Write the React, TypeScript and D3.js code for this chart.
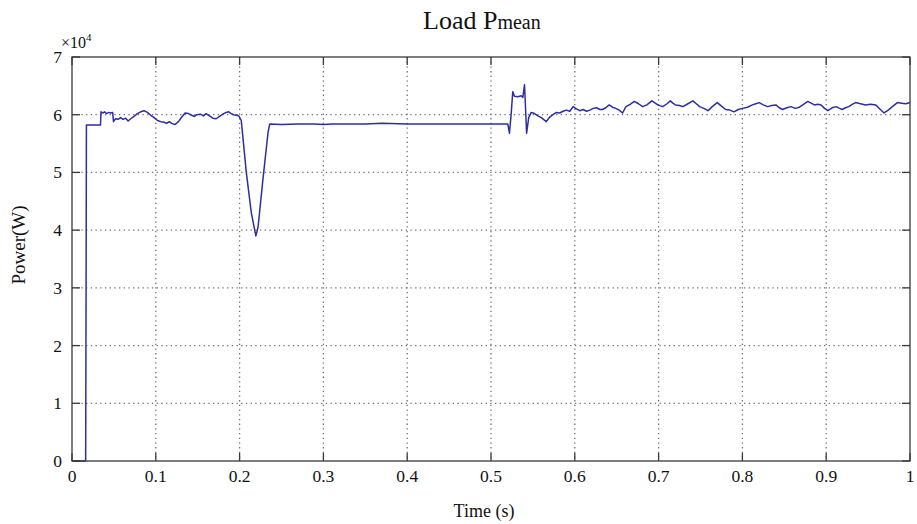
import React from "react";
import * as d3 from "d3";

// time (s) and load power (x10^4 W)
const time = [
  0, 0.0163, 0.0168, 0.0172, 0.034, 0.0346, 0.037, 0.039, 0.041, 0.044, 0.046, 0.0485, 0.0495,
  0.052, 0.055, 0.058, 0.061, 0.064, 0.067, 0.07, 0.074, 0.078, 0.082, 0.086, 0.09, 0.094, 0.098,
  0.102, 0.106, 0.11, 0.113, 0.116, 0.119, 0.123, 0.127, 0.131, 0.135, 0.139, 0.143, 0.146, 0.149,
  0.153, 0.157, 0.16, 0.164, 0.168, 0.172, 0.176, 0.18, 0.184, 0.187, 0.19, 0.193, 0.196, 0.199,
  0.202, 0.208, 0.214, 0.2194, 0.222, 0.228, 0.234, 0.236, 0.25, 0.27, 0.29, 0.3, 0.31, 0.35,
  0.37, 0.4, 0.45, 0.5, 0.52, 0.522, 0.524, 0.526, 0.528, 0.532, 0.536, 0.538, 0.54, 0.5425,
  0.545, 0.548, 0.552, 0.556, 0.56, 0.566, 0.57, 0.574, 0.578, 0.582, 0.586, 0.59, 0.594, 0.598,
  0.602, 0.606, 0.61, 0.614, 0.618, 0.622, 0.626, 0.63, 0.633, 0.637, 0.641, 0.645, 0.649, 0.653,
  0.657, 0.661, 0.666, 0.671, 0.676, 0.681, 0.686, 0.692, 0.696, 0.699, 0.705, 0.71, 0.714, 0.717,
  0.72, 0.725, 0.729, 0.735, 0.741, 0.745, 0.749, 0.754, 0.759, 0.764, 0.77, 0.775, 0.78, 0.785,
  0.79, 0.795, 0.8, 0.806, 0.812, 0.816, 0.82, 0.825, 0.83, 0.835, 0.84, 0.844, 0.848, 0.853,
  0.858, 0.863, 0.868, 0.873, 0.878, 0.882, 0.886, 0.89, 0.894, 0.898, 0.902, 0.907, 0.912, 0.916,
  0.919, 0.923, 0.927, 0.931, 0.935, 0.941, 0.947, 0.953, 0.959, 0.964, 0.969, 0.974, 0.979, 0.985,
  0.99, 0.995, 1.0,
];

const power = [
  0, 0, 2.9, 5.82, 5.82, 6.05, 6.03, 6.05, 6.02, 6.04, 6.03, 6.04, 5.88,
  5.93, 5.92, 5.95, 5.92, 5.94, 5.89, 5.93, 5.97, 6.02, 6.05, 6.07, 6.04, 5.99, 5.95,
  5.9, 5.88, 5.87, 5.85, 5.88, 5.85, 5.83, 5.88, 5.96, 6.03, 6.02, 5.99, 5.97, 6.0,
  6.01, 5.98, 6.02, 5.98, 5.94, 5.93, 5.97, 6.01, 6.04, 6.05, 6.02, 6.0, 5.99, 5.98,
  5.9, 5.0, 4.3, 3.9, 4.05, 4.9, 5.7, 5.84, 5.83, 5.84, 5.84, 5.83, 5.84, 5.84,
  5.85, 5.84, 5.84, 5.84, 5.84, 5.68, 6.0, 6.4, 6.32, 6.31, 6.33, 6.3, 6.52, 5.68,
  5.95, 6.04, 6.02, 5.98, 5.95, 5.88, 5.96, 6.0, 6.04, 6.03, 6.06, 6.08, 6.06, 6.14,
  6.1, 6.07, 6.09, 6.06, 6.08, 6.11, 6.12, 6.09, 6.09, 6.12, 6.17, 6.13, 6.11, 6.08,
  6.03, 6.14, 6.18, 6.23, 6.19, 6.14, 6.17, 6.24, 6.2, 6.17, 6.14, 6.19, 6.24, 6.2,
  6.17, 6.16, 6.14, 6.19, 6.24, 6.19, 6.14, 6.11, 6.07, 6.14, 6.21, 6.15, 6.09, 6.08,
  6.05, 6.09, 6.11, 6.13, 6.17, 6.19, 6.21, 6.17, 6.14, 6.16, 6.17, 6.12, 6.09, 6.12,
  6.14, 6.11, 6.13, 6.18, 6.23, 6.2, 6.17, 6.18, 6.17, 6.11, 6.07, 6.12, 6.14, 6.11,
  6.09, 6.12, 6.14, 6.18, 6.21, 6.19, 6.17, 6.18, 6.17, 6.1, 6.03, 6.08, 6.14, 6.21,
  6.2, 6.19, 6.21,
];

const xTicks = [0, 0.1, 0.2, 0.3, 0.4, 0.5, 0.6, 0.7, 0.8, 0.9, 1];
const xTickLabels = ["0", "0.1", "0.2", "0.3", "0.4", "0.5", "0.6", "0.7", "0.8", "0.9", "1"];
const yTicks = [0, 1, 2, 3, 4, 5, 6, 7];

const width = 917;
const height = 524;
const margin = { top: 57, right: 7, bottom: 63, left: 72 };
const font = "'Liberation Serif', 'Times New Roman', serif";

const App = () => {
  const x = d3.scaleLinear().domain([0, 1]).range([margin.left, width - margin.right]);
  const y = d3.scaleLinear().domain([0, 7]).range([height - margin.bottom, margin.top]);

  const line = d3
    .line<number>()
    .x((_, i) => x(time[i]))
    .y((d) => y(d));

  const x0 = x(0);
  const x1 = x(1);
  const y0 = y(0);
  const y1 = y(7);
  const tick = 8;
  const axisColor = "#3a3a3a";

  return (
    <svg
      width={width}
      height={height}
      style={{ position: "absolute", left: 0, top: 0, background: "#fff" }}
      fontFamily={font}
    >
      <rect x={0} y={0} width={width} height={height} fill="#fff" />

      {/* grid */}
      <g stroke="#707070" strokeWidth={1.3} strokeDasharray="1.3,3.4">
        {xTicks.slice(1, -1).map((t) => (
          <line key={"gx" + t} x1={x(t)} x2={x(t)} y1={y1} y2={y0} />
        ))}
        {yTicks.slice(1, -1).map((t) => (
          <line key={"gy" + t} x1={x0} x2={x1} y1={y(t)} y2={y(t)} />
        ))}
      </g>

      {/* data */}
      <path d={line(power) || ""} fill="none" stroke="#2e2ea2" strokeWidth={1.5} strokeLinejoin="round" />

      {/* box and ticks */}
      <rect x={x0} y={y1} width={x1 - x0} height={y0 - y1} fill="none" stroke={axisColor} strokeWidth={1.3} />
      <g stroke={axisColor} strokeWidth={1.3}>
        {xTicks.map((t) => (
          <g key={"tx" + t}>
            <line x1={x(t)} x2={x(t)} y1={y0} y2={y0 - tick} />
            <line x1={x(t)} x2={x(t)} y1={y1} y2={y1 + tick} />
          </g>
        ))}
        {yTicks.map((t) => (
          <g key={"ty" + t}>
            <line x1={x0} x2={x0 + tick} y1={y(t)} y2={y(t)} />
            <line x1={x1} x2={x1 - tick} y1={y(t)} y2={y(t)} />
          </g>
        ))}
      </g>

      {/* tick labels */}
      <g fontSize={17.5} fill="#111">
        {xTicks.map((t, i) => (
          <text key={"lx" + t} x={x(t)} y={y0 + 21} textAnchor="middle">
            {xTickLabels[i]}
          </text>
        ))}
        {yTicks.map((t) => (
          <text key={"ly" + t} x={x0 - 10} y={y(t) + 6} textAnchor="end">
            {t}
          </text>
        ))}
      </g>

      {/* exponent */}
      <text x={61} y={48} fontSize={16} fill="#111">
        ×10
        <tspan dy={-7} fontSize={11}>4</tspan>
      </text>

      {/* title */}
      <text x={423} y={29} fontSize={26} fill="#111">
        Load P<tspan fontSize={20}>mean</tspan>
      </text>

      {/* axis labels */}
      <text x={484} y={517} fontSize={18} textAnchor="middle" fill="#111">
        Time (s)
      </text>
      <text transform="translate(25,245) rotate(-90)" fontSize={19} textAnchor="middle" fill="#111">
        Power(W)
      </text>
    </svg>
  );
};

export default App;
